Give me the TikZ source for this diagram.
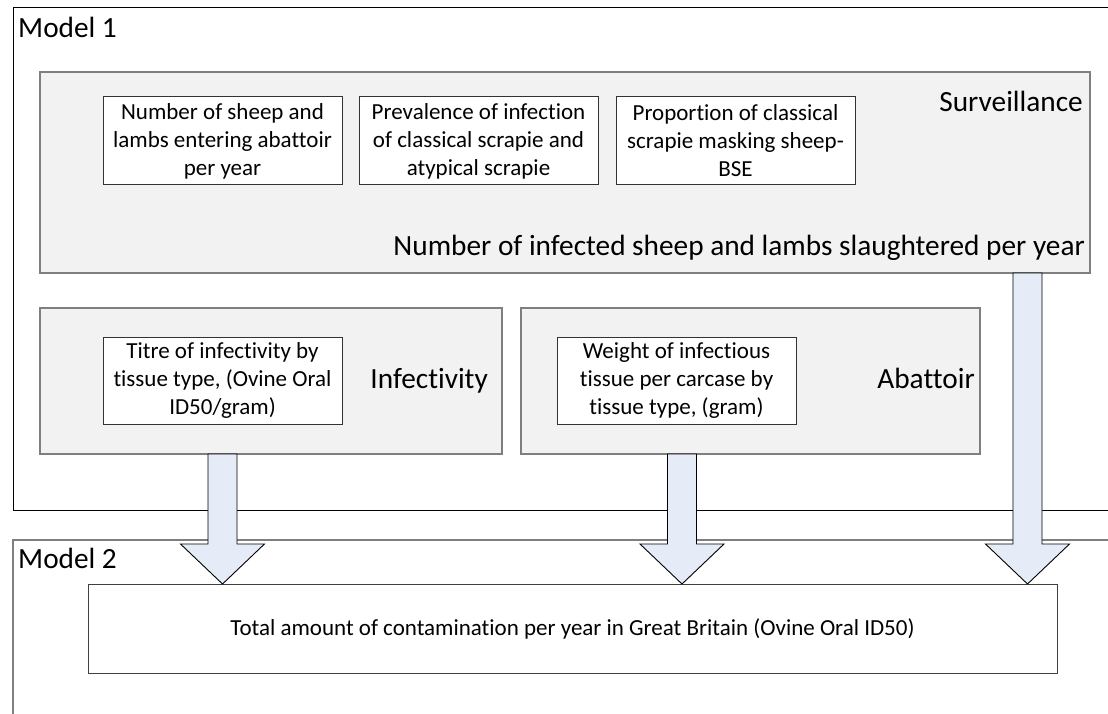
\documentclass[tikz,border=0pt]{standalone}
\usepackage{fontspec}
\setmainfont{Carlito}[Ligatures={CommonOff,ContextualOff,RequiredOff},Contextuals=AlternateOff]
\usetikzlibrary{calc}
\definecolor{boxgrey}{HTML}{F2F2F2}
\definecolor{edgegrey}{HTML}{7F7F7F}
\definecolor{arrowblue}{HTML}{E5ECF7}
\tikzset{
  bigfont/.style={font=\fontsize{29.3}{35}\selectfont},
  smallfont/.style={font=\fontsize{23}{28}\selectfont},
  greybox/.style={draw=edgegrey, line width=1.3pt, fill=boxgrey, rectangle, inner sep=0pt, outer sep=0pt, anchor=north west},
  whitebox/.style={draw=black!80, line width=1pt, fill=white, rectangle, inner sep=0pt, outer sep=0pt, anchor=north west, minimum width=239pt, minimum height=88pt, align=center, smallfont},
  txt/.style={inner sep=0pt, bigfont},
  blockarrow/.style={draw=black, line width=0.9pt, fill=arrowblue, line join=miter},
}
\newcommand{\blkarrow}[2]{%
  \draw[blockarrow] let \p1=(#1), \p2=(#2) in
    (\x1-14.5pt,\y1) -- (\x1-14.5pt,\y2+40pt) -- (\x1-42pt,\y2+40pt) -- (\x1,\y2)
    -- (\x1+42pt,\y2+40pt) -- (\x1+14.5pt,\y2+40pt) -- (\x1+14.5pt,\y1) -- cycle;}
\begin{document}
\begin{tikzpicture}[x=1pt,y=-1pt]
\useasboundingbox (0,0) rectangle (1108,714);
\clip (0,0) rectangle (1108,714);
% Model 1 frame
\draw[line width=1pt] (1120,8) -- (13,8) -- (13,510) -- (1120,510);
\node[txt, anchor=base west] (m1) at (18,38) {Model 1};
% Model 2 frame
\draw[edgegrey, line width=1.5pt] (1120,540) -- (13,540) -- (13,720);
\node[txt, anchor=base west] (m2) at (18,568) {Model 2};
% Surveillance
\node[greybox, minimum width=1050pt, minimum height=201pt] (surv) at (40,72) {};
\node[txt, anchor=base east] (survl) at (1083,112) {Surveillance};
\node[txt, anchor=base east] (nisl) at (1085,255) {Number of infected sheep and lambs slaughtered per year};
\node[whitebox] (b1) at (103,97) {Number of sheep and\\lambs entering abattoir\\per year};
\node[whitebox] (b2) at (359,97) {Prevalence of infection\\of classical scrapie and\\atypical scrapie};
\node[whitebox] (b3) at (616,97) {Proportion of classical\\scrapie masking sheep-\\BSE};
% Infectivity
\node[greybox, minimum width=462pt, minimum height=146pt] (inf) at (40,308) {};
\node[whitebox, minimum height=87pt] (b4) at (103,337) {Titre of infectivity by\\tissue type, (Ovine Oral\\ID50/gram)};
\node[txt, anchor=base east] (infl) at (488,388) {Infectivity};
% Abattoir
\node[greybox, minimum width=459pt, minimum height=146pt] (abt) at (521,308) {};
\node[whitebox, minimum height=87pt] (b5) at (557,337) {Weight of infectious\\tissue per carcase by\\tissue type, (gram)};
\node[txt, anchor=base east] (abtl) at (975,388) {Abattoir};
% Total
\node[draw=black!75, line width=1pt, fill=white, rectangle, anchor=north west, minimum width=969pt, minimum height=89pt, inner sep=0pt, outer sep=0pt, smallfont] (total) at (88,584) {Total amount of contamination per year in Great Britain (Ovine Oral ID50)};
% Arrows
\coordinate (a1) at ($(inf.south west)+(182.5,0)$);
\coordinate (a2) at ($(abt.south west)+(161,0)$);
\coordinate (a3) at ($(surv.south west)+(987.5,0)$);
\coordinate (t1) at (a1 |- total.north);
\coordinate (t2) at (a2 |- total.north);
\coordinate (t3) at (a3 |- total.north);
\blkarrow{a1}{t1}
\blkarrow{a2}{t2}
\blkarrow{a3}{t3}
\end{tikzpicture}
\end{document}
